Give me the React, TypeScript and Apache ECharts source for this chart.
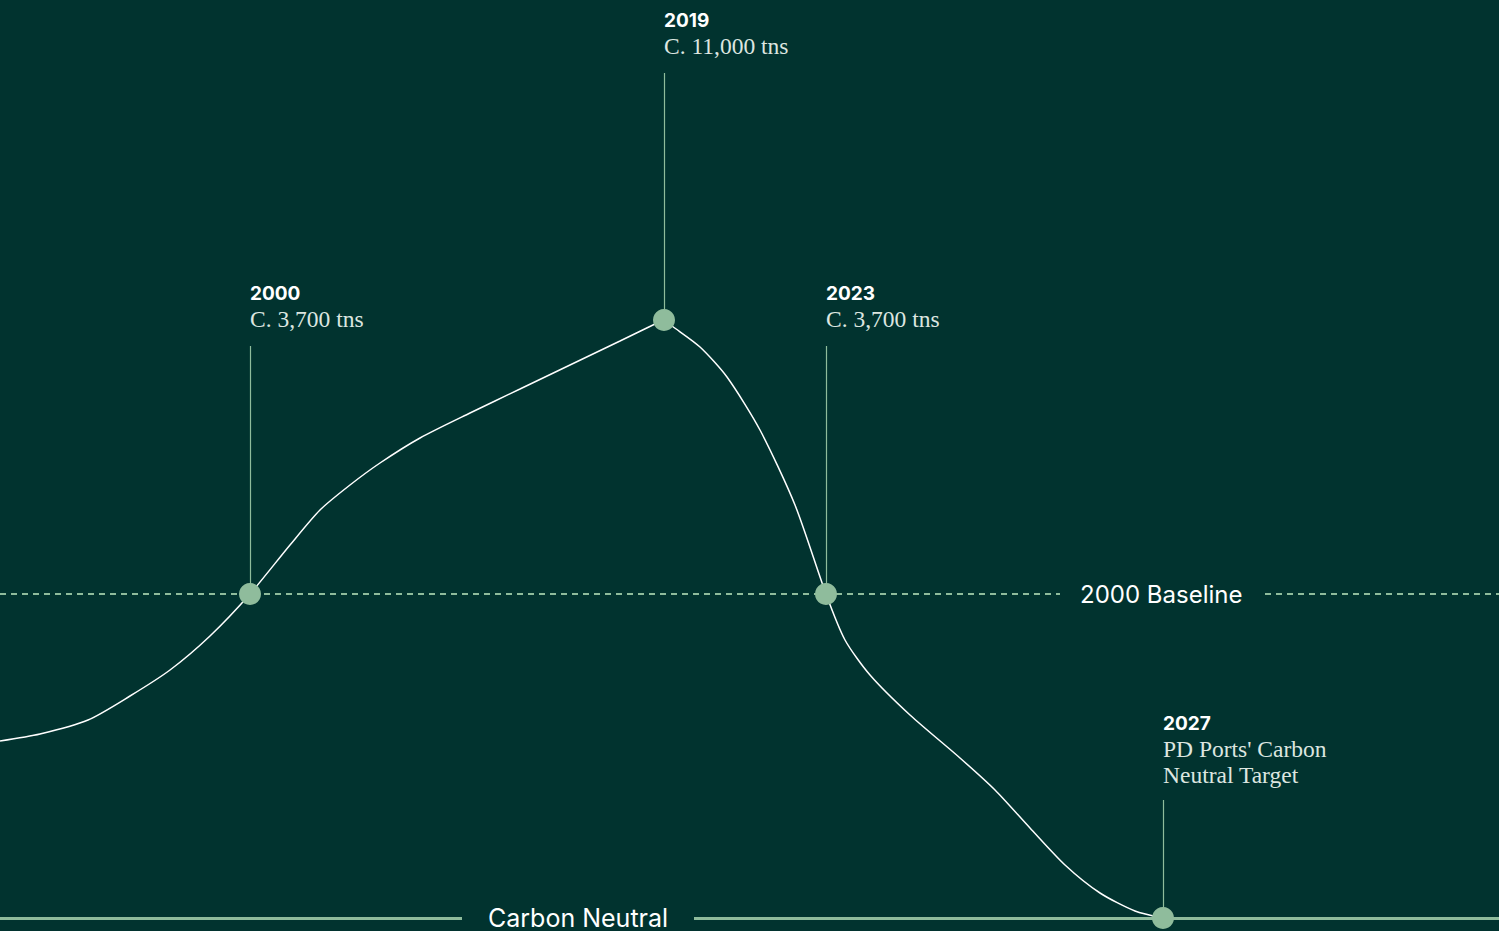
import React, { useEffect, useRef } from "react";
import * as echarts from "echarts";

// Emission curve: horizontal timeline position and emission level
// (level scale: 0 = carbon neutral, 324 = 2000 baseline)
const curveX = [0, 40, 88, 130, 170, 210, 250, 290, 320, 350, 380, 420, 470, 520, 570, 620, 655, 664, 672, 700, 727, 760, 795, 826, 845, 870, 910, 960, 995, 1030, 1065, 1100, 1135, 1163];
const curveLevel = [177, 184, 198, 222, 248, 282, 324, 373, 408, 433, 455, 480, 505, 529, 553, 577, 594, 598, 592, 571, 541, 488, 413, 324, 278, 243, 203, 160, 128, 90, 53, 25, 7, 0];

// Milestones
const milestoneYears = ["2000", "2019", "2023", "2027"];
const milestoneNotes = ["C. 3,700 tns", "C. 11,000 tns", "C. 3,700 tns", "PD Ports' Carbon\nNeutral Target"];
const milestoneX = [250, 664, 826, 1163];
const milestoneLevel = [324, 598, 324, 0];
const milestoneStemTop = [572, 845, 572, 118];

// Reference levels
const baselineLevel = 324;
const neutralLevel = 0;
const baselineLabel = "2000 Baseline";
const neutralLabel = "Carbon Neutral";

const BG = "#01332f";
const ACCENT = "#8fbc9c";

export default function App() {
  const ref = useRef<HTMLDivElement>(null);
  useEffect(() => {
    if (!ref.current) return;
    const chart = echarts.init(ref.current, undefined, { renderer: "svg" });

    const stems = milestoneX.map((x, i) => [
      { coord: [x, milestoneLevel[i]] },
      { coord: [x, milestoneStemTop[i]] },
    ]);

    const labelGap = [14, 14, 14, 12];
    const dashStyle = { type: [6, 5], color: ACCENT, width: 2 };
    const solidStyle = { type: "solid", color: ACCENT, width: 3 };
    const refLabel = (text: string, size: number, dist: number) => ({
      show: true,
      position: "end",
      formatter: text,
      color: "#ffffff",
      fontFamily: "Inter",
      fontSize: size,
      distance: dist,
    });

    const option: any = {
      animation: false,
      backgroundColor: BG,
      grid: { left: 0, right: 0, top: 0, bottom: 0, containLabel: false },
      xAxis: { type: "value", min: 0, max: 1499, show: false },
      yAxis: { type: "value", min: -13, max: 918, show: false },
      series: [
        {
          type: "line",
          name: "levels",
          data: [],
          silent: true,
          markLine: {
            symbol: "none",
            silent: true,
            data: [
              [
                { coord: [0, baselineLevel], lineStyle: dashStyle, label: refLabel(baselineLabel, 24, 20) },
                { coord: [1060, baselineLevel] },
              ],
              [
                { coord: [1265, baselineLevel], lineStyle: dashStyle, label: { show: false } },
                { coord: [1499, baselineLevel] },
              ],
              [
                { coord: [0, neutralLevel], lineStyle: solidStyle, label: refLabel(neutralLabel, 25, 26) },
                { coord: [462, neutralLevel] },
              ],
              [
                { coord: [694, neutralLevel], lineStyle: solidStyle, label: { show: false } },
                { coord: [1499, neutralLevel] },
              ],
            ],
          },
        },
        {
          type: "line",
          name: "emissions",
          data: curveX.map((x, i) => [x, curveLevel[i]]),
          smooth: 0.25,
          showSymbol: false,
          lineStyle: { color: "#ffffff", width: 1.5 },
          clip: false,
          z: 3,
          markLine: {
            symbol: "none",
            silent: true,
            label: { show: false },
            lineStyle: { color: ACCENT, width: 1.2, type: "solid" },
            data: stems,
          },
        },
        {
          type: "scatter",
          name: "milestones",
          data: milestoneX.map((x, i) => ({
            value: [x, milestoneLevel[i]],
            label: { position: [11, 11 - (milestoneStemTop[i] - milestoneLevel[i]) - labelGap[i]] },
          })),
          symbolSize: 22,
          itemStyle: { color: ACCENT, opacity: 1 },
          clip: false,
          z: 5,
          label: {
            show: true,
            formatter: (p: any) =>
              `{y|${milestoneYears[p.dataIndex]}}\n{n|${milestoneNotes[p.dataIndex].split("\n").join("}\n{n|")}}`,
            align: "left",
            verticalAlign: "bottom",
            rich: {
              y: { fontFamily: "Inter", fontWeight: "bold", fontSize: 19, color: "#ffffff", lineHeight: 26 },
              n: { fontFamily: "Liberation Serif", fontSize: 23.5, color: "#dde6e0", lineHeight: 26 },
            },
          },
        },
      ],
    };

    chart.setOption(option);
    return () => chart.dispose();
  }, []);

  return <div ref={ref} style={{ position: "fixed", left: 0, top: 0, width: 1499, height: 931 }} />;
}
